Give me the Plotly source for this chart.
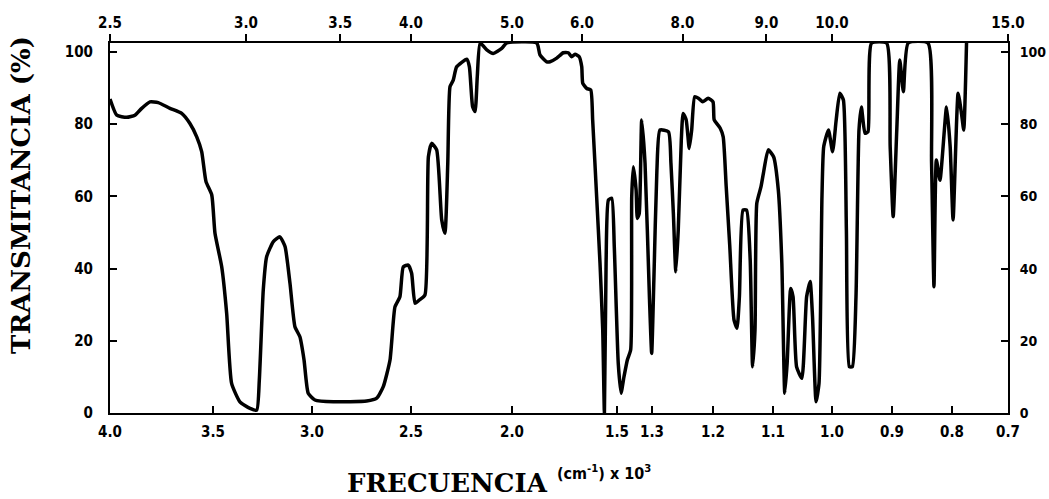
import numpy as np
import plotly.graph_objects as go

# Chart-paper scale: wavenumber breakpoints (cm-1) and their relative position along the axis
scale_wn = [4000, 3500, 3000, 2500, 2000, 1500, 1300, 1200, 1100, 1000, 900, 800, 700]
scale_pos = [0, 0.1147, 0.2249, 0.3352, 0.4477, 0.5646, 0.6036, 0.6715, 0.7383,
             0.8040, 0.8708, 0.9376, 1.0]

# Bottom axis: frequency (cm-1 x 10^3)
freq_ticks = [4000, 3500, 3000, 2500, 2000, 1500, 1300, 1200, 1100, 1000, 900, 800, 700]
freq_labels = ["4.0", "3.5", "3.0", "2.5", "2.0", "1.5", "1.3", "1.2", "1.1", "1.0",
               "0.9", "0.8", "0.7"]
# Top axis: wavelength (micrometres)
wl_ticks = [2.5, 3.0, 3.5, 4.0, 5.0, 6.0, 8.0, 9.0, 10.0, 15.0]
wl_labels = ["2.5", "3.0", "3.5", "4.0", "5.0", "6.0", "8.0", "9.0", "10.0", "15.0"]
# Transmittance ticks
t_ticks = [0, 20, 40, 60, 80, 100]

# Spectrum: wavenumber (cm-1) and transmittance (%)
wavenumber = [
    4000, 3967, 3919, 3879, 3846, 3806, 3766, 3709, 3652, 3612, 3579, 3555, 3534, 3506,
    3490, 3456, 3431, 3406, 3364, 3313, 3279, 3266, 3246, 3229, 3195, 3162, 3136, 3111,
    3086, 3061, 3040, 3019, 2985, 2892, 2724, 2673, 2640, 2606, 2581, 2556, 2539, 2514,
    2497, 2480, 2459, 2431, 2414, 2398, 2373, 2348, 2332, 2318, 2307, 2291, 2274, 2224,
    2211, 2195, 2183, 2172, 2158, 2125, 2093, 2051, 2026, 1882, 1867, 1835, 1819, 1787,
    1756, 1732, 1716, 1700, 1680, 1668, 1663, 1644, 1625, 1616, 1597, 1581, 1568, 1560,
    1552, 1541, 1525, 1513, 1493, 1477, 1460, 1441, 1422, 1416, 1407, 1391, 1384, 1373,
    1359, 1340, 1315, 1302, 1297, 1292, 1287, 1273, 1269, 1265, 1261, 1257, 1252, 1249,
    1244, 1239, 1235, 1230, 1224, 1217, 1208, 1200, 1198, 1188, 1183, 1178, 1172, 1165,
    1160, 1156, 1150, 1144, 1138, 1134, 1130, 1127, 1120, 1116, 1108, 1099, 1091, 1085,
    1080, 1076, 1070, 1066, 1060, 1051, 1043, 1037, 1033, 1027, 1022, 1017, 1014, 1006,
    999, 993, 987, 981, 976, 971, 966, 960, 955, 951, 945, 940, 934, 909, 903, 898, 892,
    887, 881, 873, 840, 834, 830, 826, 820, 809, 803, 798, 789, 783, 779, 774,
]
transmittance = [
    87.0, 82.5, 81.9, 82.5, 84.4, 86.2, 86.0, 84.4, 83.0, 80.2, 76.5, 72.4, 64.1, 60.4,
    49.8, 40.5, 27.6, 8.2, 3.1, 1.3, 0.8, 9.1, 34.1, 43.3, 47.5, 48.8, 46.1, 35.9,
    23.9, 21.1, 14.7, 5.5, 3.6, 3.1, 3.3, 4.1, 7.3, 14.7, 29.4, 32.2, 40.5, 41.0,
    38.7, 30.4, 31.3, 32.7, 71.0, 74.7, 72.9, 53.5, 49.8, 69.2, 90.4, 92.2, 95.9, 98.0,
    95.9, 84.8, 83.5, 93.2, 102.5, 100.6, 99.6, 101.0, 102.5, 102.5, 99.2, 97.3, 97.3, 98.3,
    99.8, 99.8, 98.7, 99.4, 98.7, 95.9, 91.3, 89.9, 89.5, 81.2, 59.9, 41.5, 23.0, 0.0,
    41.6, 59.0, 59.5, 46.1, 13.8, 5.5, 10.1, 14.7, 17.5, 59.9, 68.2, 61.8, 53.9, 55.3,
    81.2, 69.2, 32.2, 16.5, 36.8, 67.3, 78.4, 77.9, 69.2, 55.3, 39.1, 50.7, 75.6, 83.0,
    81.2, 73.3, 78.4, 87.6, 87.2, 86.2, 87.2, 86.2, 81.2, 78.9, 76.5, 62.7, 46.1, 25.8,
    23.5, 32.2, 56.2, 56.2, 42.4, 12.8, 23.0, 58.1, 62.7, 66.4, 72.9, 71.0, 61.8, 41.5,
    5.5, 13.8, 34.5, 32.2, 12.8, 9.6, 32.2, 36.4, 26.7, 3.1, 8.2, 59.9, 73.8, 78.4,
    72.4, 81.2, 88.6, 86.7, 50.7, 12.8, 12.8, 32.2, 78.4, 84.8, 77.5, 77.9, 102.5, 102.5, 73.8, 54.4, 78.4,
    97.8, 89.0, 102.5, 102.5, 69.2, 35.0, 70.1, 64.5, 84.8, 73.8, 53.5, 88.6, 83.0, 78.4, 102.5,
]

T_MAX = 102.5


def to_pos(wn):
    """Map wavenumbers onto the piecewise-linear chart-paper scale."""
    wn = np.asarray(wn, dtype=float)
    return np.interp(-wn, -np.asarray(scale_wn, dtype=float), scale_pos)


tick_font = dict(family="DejaVu Sans Condensed, Liberation Sans Narrow, DejaVu Sans",
                 size=15, color="black", weight="bold")
right_font = dict(tick_font, size=14)
title_font = dict(family="DejaVu Serif, Liberation Serif, serif", size=26,
                  color="black", weight="bold")

fig = go.Figure()
fig.add_trace(go.Scatter(
    x=to_pos(wavenumber), y=transmittance, mode="lines",
    line=dict(color="black", width=3.5, shape="spline", smoothing=0.5),
    hoverinfo="skip", showlegend=False, cliponaxis=False,
))
# The wavelength (top) and right-hand transmittance axes share the same frame
fig.add_trace(go.Scatter(
    x=to_pos(wavenumber), y=transmittance, mode="none", xaxis="x2", yaxis="y2",
    hoverinfo="skip", showlegend=False,
))

axis_common = dict(showgrid=False, zeroline=False, showline=True, linecolor="black",
                   linewidth=2, tickcolor="black", tickwidth=2, ticklen=7,
                   automargin=False)

fig.update_layout(
    width=1049, height=499,
    margin=dict(l=110, r=41, t=43, b=86, autoexpand=False),
    paper_bgcolor="white", plot_bgcolor="white",
    xaxis=dict(range=[0, 1], tickmode="array", tickvals=to_pos(freq_ticks),
               ticktext=freq_labels, ticks="inside", ticklabelstandoff=4,
               tickfont=tick_font, **axis_common),
    xaxis2=dict(range=[0, 1], overlaying="x", side="top", tickmode="array",
                tickvals=to_pos([1e4 / w for w in wl_ticks]), ticktext=wl_labels,
                ticks="outside", ticklabelstandoff=0, tickfont=tick_font,
                **axis_common),
    yaxis=dict(range=[0, T_MAX], tickmode="array", tickvals=t_ticks,
               ticktext=[str(t) for t in t_ticks], ticks="inside",
               ticklabelstandoff=12, tickfont=tick_font, **axis_common),
    yaxis2=dict(range=[0, T_MAX], overlaying="y", side="right", tickmode="array",
                tickvals=t_ticks, ticktext=[str(t) for t in t_ticks], ticks="inside",
                ticklabelstandoff=7, tickfont=right_font, **axis_common),
    annotations=[
        dict(text="TRANSMITANCIA (%)", xref="paper", yref="paper", x=-0.1, y=0.59,
             textangle=-90, showarrow=False, font=title_font,
             xanchor="center", yanchor="middle"),
        dict(text="FRECUENCIA", xref="paper", yref="paper", x=0.376, y=-0.19,
             showarrow=False, font=title_font, xanchor="center", yanchor="middle"),
        dict(text="(cm<sup>-1</sup>) x 10<sup>3</sup>", xref="paper", yref="paper",
             x=0.55, y=-0.16, showarrow=False,
             font=dict(family="DejaVu Sans Condensed, DejaVu Sans", size=16,
                       color="black", weight="bold"),
             xanchor="center", yanchor="middle"),
    ],
)

fig.write_html("out.html")
